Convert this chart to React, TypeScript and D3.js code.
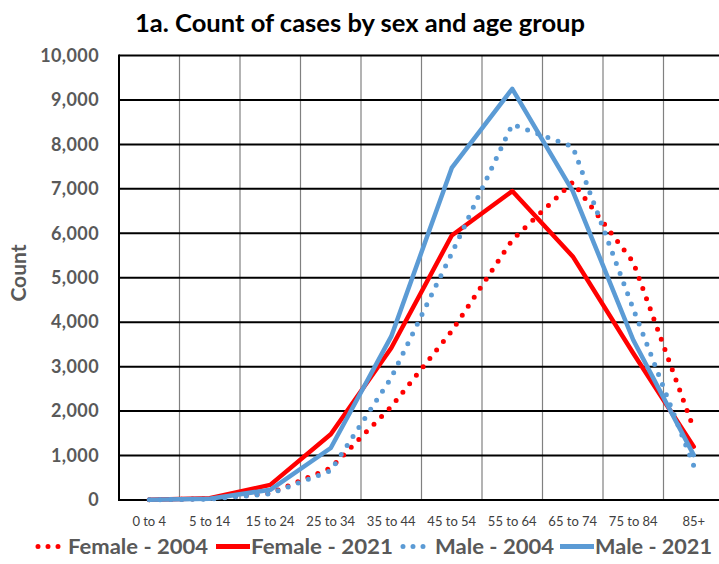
import React, { useEffect, useRef } from 'react';
import * as d3 from 'd3';

const ageGroups = ['0 to 4', '5 to 14', '15 to 24', '25 to 34', '35 to 44', '45 to 54', '55 to 64', '65 to 74', '75 to 84', '85+'];
const female2004 = [5, 30, 150, 720, 2100, 3800, 5850, 7150, 5350, 1600];
const female2021 = [5, 40, 340, 1480, 3420, 5950, 6950, 5480, 3300, 1200];
const male2004 = [5, 20, 140, 660, 2750, 5550, 8450, 7950, 4300, 770];
const male2021 = [5, 30, 230, 1170, 3680, 7470, 9250, 6950, 3600, 1010];
const yTicks = [0, 1000, 2000, 3000, 4000, 5000, 6000, 7000, 8000, 9000, 10000];

const series = [
  { name: 'Female - 2004', values: female2004, color: '#FF0000', dotted: true },
  { name: 'Female - 2021', values: female2021, color: '#FF0000', dotted: false },
  { name: 'Male - 2004', values: male2004, color: '#5B9BD5', dotted: true },
  { name: 'Male - 2021', values: male2021, color: '#5B9BD5', dotted: false },
];

// legend layout: sample start, sample end, text start, text end
const legendSlots = [
  [35, 61, 68, 208],
  [216, 250, 251, 393],
  [400, 428, 435, 554],
  [560, 594, 595, 712],
];

const FONT = "Lato, 'Open Sans', sans-serif";

export default function App() {
  const ref = useRef<SVGSVGElement>(null);

  useEffect(() => {
    const svg = d3.select(ref.current);
    svg.selectAll('*').remove();

    const left = 119, right = 724, top = 55.5, bottom = 500;

    const x = d3.scaleBand<string>().domain(ageGroups).range([left, right]);
    const y = d3.scaleLinear().domain([0, 10000]).range([bottom, top]);

    // title
    svg.append('text')
      .attr('x', 135)
      .attr('y', 32)
      .attr('textLength', 450)
      .attr('lengthAdjust', 'spacingAndGlyphs')
      .style('font-family', FONT)
      .style('font-weight', 700)
      .style('font-size', '24px')
      .attr('fill', '#000')
      .text('1a. Count of cases by sex and age group');

    // vertical grid (band edges)
    svg.append('g')
      .selectAll('line')
      .data(ageGroups.slice(1))
      .enter().append('line')
      .attr('x1', d => x(d)!)
      .attr('x2', d => x(d)!)
      .attr('y1', top)
      .attr('y2', bottom)
      .attr('stroke', '#808080')
      .attr('stroke-width', 1.2);

    // horizontal grid
    svg.append('g')
      .selectAll('line')
      .data(yTicks.slice(1))
      .enter().append('line')
      .attr('x1', left)
      .attr('x2', right)
      .attr('y1', d => y(d))
      .attr('y2', d => y(d))
      .attr('stroke', '#000')
      .attr('stroke-width', 2);

    // axes lines
    svg.append('line')
      .attr('x1', left).attr('x2', left)
      .attr('y1', top - 1).attr('y2', bottom + 1)
      .attr('stroke', '#000').attr('stroke-width', 2);
    svg.append('line')
      .attr('x1', left - 1).attr('x2', right)
      .attr('y1', bottom).attr('y2', bottom)
      .attr('stroke', '#000').attr('stroke-width', 2);

    // y axis labels
    const yAxis = svg.append('g')
      .attr('transform', `translate(${left},0)`)
      .call(d3.axisLeft(y).tickValues(yTicks).tickSize(0).tickPadding(20).tickFormat(d3.format(',')));
    yAxis.select('.domain').remove();
    yAxis.selectAll('text')
      .style('font-family', FONT)
      .style('font-weight', 700)
      .style('font-size', '18px')
      .style('letter-spacing', '0.4px')
      .attr('fill', '#595959');

    svg.append('text')
      .attr('transform', `translate(26, 273) rotate(-90)`)
      .attr('text-anchor', 'middle')
      .style('font-family', FONT)
      .style('font-weight', 700)
      .style('font-size', '21px')
      .attr('fill', '#595959')
      .text('Count');

    // x axis labels
    const xAxis = svg.append('g')
      .attr('transform', `translate(0,${bottom})`)
      .call(d3.axisBottom(x).tickSize(0).tickPadding(17));
    xAxis.select('.domain').remove();
    xAxis.selectAll('text')
      .style('font-family', FONT)
      .style('font-size', '13px')
      .attr('fill', '#404040');

    // series
    const line = d3.line<number>()
      .x((_, i) => x(ageGroups[i])! + x.bandwidth() / 2)
      .y(d => y(d));

    series.forEach(s => {
      svg.append('path')
        .datum(s.values)
        .attr('fill', 'none')
        .attr('stroke', s.color)
        .attr('stroke-width', s.dotted ? 5 : 4.5)
        .attr('stroke-linecap', 'round')
        .attr('stroke-linejoin', 'round')
        .attr('stroke-dasharray', s.dotted ? '0 10.8' : null)
        .attr('d', line);
    });

    // legend
    const legend = svg.append('g').attr('transform', 'translate(0,554)');
    series.forEach((s, i) => {
      const [s0, s1, t0, t1] = legendSlots[i];
      legend.append('line')
        .attr('x1', s0 + (s.dotted ? 3 : 0))
        .attr('x2', s1)
        .attr('y1', -7.5)
        .attr('y2', -7.5)
        .attr('stroke', s.color)
        .attr('stroke-width', s.dotted ? 5 : 5)
        .attr('stroke-linecap', s.dotted ? 'round' : 'butt')
        .attr('stroke-dasharray', s.dotted ? '0 10' : null);
      legend.append('text')
        .attr('x', t0)
        .attr('y', 0)
        .attr('textLength', t1 - t0)
        .attr('lengthAdjust', 'spacingAndGlyphs')
        .style('font-family', FONT)
        .style('font-weight', 700)
        .style('font-size', '20px')
        .attr('fill', '#595959')
        .text(s.name);
    });
  }, []);

  return (
    <svg
      ref={ref}
      width={719}
      height={564}
      style={{ position: 'absolute', left: 0, top: 0, overflow: 'hidden', background: '#fff' }}
    />
  );
}
